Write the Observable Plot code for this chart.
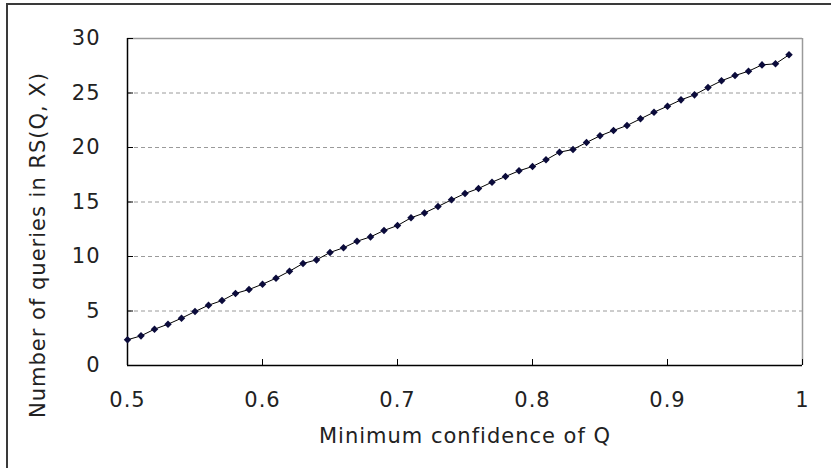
<!DOCTYPE html>
<html>
<head>
<meta charset="utf-8">
<script src="https://cdn.jsdelivr.net/npm/d3@7"></script>
<script src="https://cdn.jsdelivr.net/npm/@observablehq/plot@0.6"></script>
<style>
  html, body { margin: 0; padding: 0; background: #fff; overflow: hidden; }
  #wrap { position: relative; width: 831px; height: 468px; overflow: hidden; }
  #frame { position: absolute; left: 6px; top: 3px; width: 900px; height: 600px;
           border-top: 2px solid #3a3a3a; border-left: 2px solid #3a3a3a; box-sizing: border-box; }
  #chart { position: absolute; left: 0; top: 0; }
</style>
</head>
<body>
<div id="wrap"><div id="frame"></div><div id="chart"></div></div>
<script>
const confidence = [0.50,0.51,0.52,0.53,0.54,0.55,0.56,0.57,0.58,0.59,
                    0.60,0.61,0.62,0.63,0.64,0.65,0.66,0.67,0.68,0.69,
                    0.70,0.71,0.72,0.73,0.74,0.75,0.76,0.77,0.78,0.79,
                    0.80,0.81,0.82,0.83,0.84,0.85,0.86,0.87,0.88,0.89,
                    0.90,0.91,0.92,0.93,0.94,0.95,0.96,0.97,0.98,0.99];
const queries = [2.36,2.72,3.33,3.79,4.34,4.95,5.53,5.96,6.61,6.97,
                 7.46,8.01,8.65,9.36,9.69,10.37,10.80,11.40,11.80,12.39,
                 12.84,13.55,14.00,14.59,15.20,15.78,16.24,16.82,17.34,17.86,
                 18.26,18.87,19.57,19.82,20.46,21.07,21.56,22.02,22.63,23.24,
                 23.79,24.37,24.83,25.50,26.12,26.60,27.00,27.58,27.68,28.50];
const xTicks = [0.5,0.6,0.7,0.8,0.9,1];
const yTicks = [0,5,10,15,20,25,30];
const yGrid = [5,10,15,20,25];
const xTitle = "Minimum confidence of Q";
const yTitle = "Number of queries in RS(Q, X)";

const data = confidence.map((c, i) => ({c, q: queries[i]}));
const textColor = "#222";

const chart = Plot.plot({
  width: 831,
  height: 468,
  marginLeft: 127,
  marginRight: 29,
  marginTop: 38,
  marginBottom: 103,
  x: {domain: [0.5, 1]},
  y: {domain: [0, 30]},
  style: {fontFamily: "'DejaVu Sans', sans-serif", fontSize: "21px", letterSpacing: "1px", background: "transparent", color: textColor},
  marks: [
    Plot.gridY(yGrid, {stroke: "#9a9a9a", strokeOpacity: 1, strokeDasharray: "4,3"}),
    Plot.ruleY([30], {stroke: "#9a9a9a", strokeWidth: 1.5}),
    Plot.ruleX([1], {stroke: "#9a9a9a", strokeWidth: 1.5}),
    Plot.ruleY([0], {stroke: "#000", strokeWidth: 1.5}),
    Plot.ruleX([0.5], {stroke: "#000", strokeWidth: 1.5}),
    Plot.axisX(xTicks, {tickSize: 6, dy: -6, tickFormat: () => "", label: null, stroke: "#000"}),
    Plot.axisY(yTicks, {tickSize: 6, dx: 6, anchor: "left", tickFormat: () => "", label: null, stroke: "#000"}),
    Plot.axisX(xTicks, {tickSize: 0, tickPadding: 27, tickFormat: d => String(d), label: null, fill: textColor}),
    Plot.axisY(yTicks, {tickSize: 0, tickPadding: 27, anchor: "left", tickFormat: d => String(d), label: null, fill: textColor}),
    Plot.line(data, {x: "c", y: "q", stroke: "#000", strokeWidth: 1}),
    Plot.dot(data, {x: "c", y: "q", symbol: "diamond2", r: 3.4, fill: "#0b0b3b", stroke: "none"}),
    Plot.text([xTitle], {text: d => d, frameAnchor: "bottom", dy: 71, lineAnchor: "middle", textAnchor: "middle", fill: textColor}),
    Plot.text([yTitle], {text: d => d, frameAnchor: "left", rotate: -90, dx: -89, dy: 43, lineAnchor: "middle", textAnchor: "middle", fill: textColor})
  ]
});
document.getElementById("chart").appendChild(chart);
</script>
</body>
</html>
